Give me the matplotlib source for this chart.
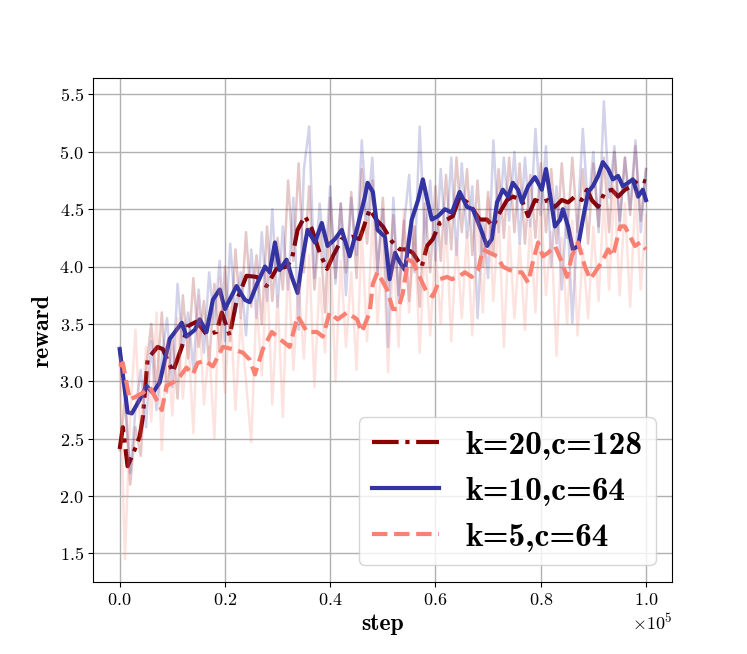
import numpy as np
import matplotlib
matplotlib.use("Agg")
import matplotlib.pyplot as plt
from matplotlib.ticker import ScalarFormatter

plt.rcParams['font.family'] = 'cmr10'
plt.rcParams['mathtext.fontset'] = 'cm'
plt.rcParams['axes.formatter.use_mathtext'] = True
plt.rcParams['axes.unicode_minus'] = False

labels = ['k=20,c=128', 'k=10,c=64', 'k=5,c=64']

# raw rewards, logged every 1000 steps
raw_steps = np.arange(0, 101) * 1000

raw_k20 = [2.40, 2.85, 2.10, 2.60, 2.35, 3.10, 3.50, 2.95, 3.60, 2.90,
           3.40, 2.85, 3.75, 3.20, 3.90, 3.30, 3.70, 3.15, 3.85, 3.25,
           4.00, 3.35, 4.15, 3.55, 4.30, 3.65, 4.10, 3.50, 4.35, 3.70,
           4.25, 3.80, 4.75, 4.05, 4.90, 3.95, 4.70, 3.80, 4.35, 3.60,
           4.60, 3.90, 4.55, 3.95, 4.65, 3.90, 4.85, 4.20, 4.75, 3.95,
           4.60, 3.80, 4.45, 3.75, 4.40, 3.70, 4.35, 3.65, 4.55, 3.95,
           4.70, 4.05, 4.80, 4.15, 4.95, 4.30, 4.85, 4.10, 4.75, 4.00,
           4.65, 4.10, 4.85, 4.25, 4.95, 4.30, 4.90, 4.20, 4.80, 4.25,
           4.90, 4.30, 4.85, 4.20, 4.90, 4.25, 4.95, 4.30, 4.85, 4.20,
           4.90, 4.35, 4.95, 4.30, 5.00, 4.40, 4.95, 4.45, 5.05, 4.40,
           4.85]

raw_k10 = [3.30, 2.90, 2.20, 2.75, 3.10, 2.60, 3.35, 2.75, 3.20, 3.55,
           2.95, 3.85, 3.30, 3.60, 3.10, 3.80, 3.25, 3.95, 3.50, 4.05,
           3.35, 4.20, 3.60, 3.95, 3.40, 4.15, 3.55, 4.30, 3.70, 4.50,
           3.65, 4.35, 3.80, 4.60, 3.45, 4.85, 5.22, 3.90, 4.55, 4.00,
           4.70, 3.85, 4.55, 3.75, 4.60, 4.10, 5.10, 4.40, 4.95, 3.95,
           4.50, 3.30, 4.60, 3.70, 4.35, 4.80, 3.95, 5.22, 4.20, 4.75,
           4.05, 4.85, 4.20, 4.95, 4.10, 4.90, 4.25, 4.70, 3.55, 4.40,
           3.90, 5.10, 4.30, 4.95, 4.40, 5.00, 4.20, 4.95, 4.35, 5.20,
           4.45, 5.05, 4.00, 4.70, 3.80, 4.55, 3.51, 4.40, 5.20, 4.50,
           5.00, 4.30, 5.44, 4.60, 5.05, 4.35, 4.95, 4.50, 5.10, 4.30,
           4.85]

raw_k5 = [3.20, 1.45, 2.70, 3.45, 2.50, 3.30, 2.65, 3.60, 2.40, 3.35,
          2.70, 3.55, 2.85, 3.40, 2.55, 3.75, 2.80, 3.30, 2.50, 3.90,
          2.90, 3.65, 2.75, 3.55, 3.00, 2.47, 3.70, 3.05, 3.95, 2.80,
          3.75, 2.69, 4.05, 3.10, 3.85, 3.20, 4.10, 2.95, 3.90, 3.25,
          4.20, 3.00, 4.05, 3.30, 3.95, 3.10, 4.30, 3.35, 4.40, 3.50,
          4.25, 3.08, 4.15, 3.30, 4.50, 3.60, 4.35, 3.25, 4.20, 3.40,
          4.15, 3.50, 4.40, 3.35, 4.25, 3.55, 4.30, 3.40, 4.50, 3.60,
          4.60, 3.70, 4.45, 3.30, 4.35, 3.55, 4.20, 3.45, 4.40, 3.60,
          4.55, 3.75, 4.30, 3.22, 4.25, 3.50, 4.40, 3.40, 4.15, 3.55,
          4.35, 3.70, 4.60, 3.80, 4.70, 3.75, 4.55, 3.65, 4.65, 3.80,
          4.45]

# smoothed curves (step in units of 1e5)
sm_x_k20 = [0.000, 0.006, 0.015, 0.029, 0.038, 0.044, 0.053, 0.063, 0.072, 0.082,
            0.101, 0.118, 0.129, 0.146, 0.165, 0.184, 0.194, 0.209, 0.222, 0.241,
            0.260, 0.279, 0.298, 0.317, 0.327, 0.338, 0.352, 0.365, 0.380, 0.394,
            0.405, 0.422, 0.441, 0.456, 0.475, 0.489, 0.500, 0.517, 0.532, 0.546,
            0.557, 0.574, 0.584, 0.595, 0.608, 0.622, 0.633, 0.646, 0.660, 0.671,
            0.684, 0.698, 0.709, 0.722, 0.736, 0.747, 0.764, 0.776, 0.789, 0.802,
            0.814, 0.827, 0.840, 0.852, 0.865, 0.878, 0.888, 0.897, 0.909, 0.922,
            0.935, 0.947, 0.960, 0.973, 0.985, 1.000]
sm_y_k20 = [2.41, 2.60, 2.26, 2.41, 2.52, 2.69, 3.19, 3.25, 3.30, 3.28,
            3.08, 3.30, 3.48, 3.52, 3.41, 3.43, 3.60, 3.40, 3.70, 3.92,
            3.91, 3.83, 3.98, 4.00, 4.06, 4.32, 4.44, 4.33, 4.12, 3.98,
            4.09, 4.24, 4.26, 4.24, 4.50, 4.40, 4.35, 4.22, 4.15, 4.15,
            4.12, 4.00, 4.18, 4.24, 4.38, 4.41, 4.44, 4.61, 4.56, 4.50,
            4.41, 4.41, 4.35, 4.47, 4.58, 4.61, 4.58, 4.44, 4.58, 4.56,
            4.58, 4.52, 4.58, 4.56, 4.61, 4.58, 4.67, 4.58, 4.52, 4.65,
            4.67, 4.61, 4.67, 4.70, 4.76, 4.74]

sm_x_k10 = [0.000, 0.015, 0.023, 0.038, 0.051, 0.063, 0.076, 0.095, 0.105, 0.118,
            0.127, 0.143, 0.152, 0.165, 0.177, 0.190, 0.200, 0.222, 0.238, 0.247,
            0.262, 0.276, 0.285, 0.295, 0.304, 0.317, 0.327, 0.338, 0.348, 0.357,
            0.371, 0.384, 0.395, 0.409, 0.422, 0.437, 0.452, 0.466, 0.471, 0.481,
            0.490, 0.504, 0.513, 0.523, 0.532, 0.542, 0.555, 0.567, 0.576, 0.584,
            0.593, 0.605, 0.618, 0.631, 0.646, 0.660, 0.671, 0.684, 0.698, 0.707,
            0.717, 0.728, 0.738, 0.747, 0.757, 0.764, 0.776, 0.789, 0.802, 0.810,
            0.817, 0.827, 0.837, 0.842, 0.852, 0.861, 0.871, 0.880, 0.890, 0.899,
            0.909, 0.918, 0.928, 0.937, 0.947, 0.956, 0.966, 0.975, 0.985, 0.994,
            1.000]
sm_y_k10 = [3.28, 2.73, 2.72, 2.84, 2.96, 2.90, 2.99, 3.37, 3.43, 3.51,
            3.39, 3.45, 3.54, 3.43, 3.71, 3.80, 3.63, 3.83, 3.71, 3.69,
            3.86, 4.00, 3.95, 4.21, 3.97, 4.06, 3.91, 3.77, 4.09, 4.32,
            4.21, 4.38, 4.18, 4.24, 4.32, 4.09, 4.35, 4.61, 4.73, 4.65,
            4.32, 4.26, 3.89, 4.12, 4.04, 3.97, 4.41, 4.58, 4.76, 4.59,
            4.41, 4.44, 4.50, 4.47, 4.65, 4.52, 4.50, 4.35, 4.18, 4.24,
            4.56, 4.67, 4.61, 4.73, 4.67, 4.56, 4.70, 4.78, 4.67, 4.85,
            4.65, 4.35, 4.41, 4.50, 4.35, 4.15, 4.18, 4.41, 4.65, 4.70,
            4.79, 4.91, 4.85, 4.76, 4.79, 4.70, 4.73, 4.76, 4.61, 4.67,
            4.58]

sm_x_k5 = [0.000, 0.006, 0.019, 0.032, 0.044, 0.057, 0.070, 0.080, 0.089, 0.101,
           0.114, 0.127, 0.139, 0.148, 0.162, 0.177, 0.196, 0.215, 0.234, 0.247,
           0.257, 0.272, 0.289, 0.304, 0.323, 0.338, 0.356, 0.375, 0.386, 0.399,
           0.414, 0.432, 0.451, 0.460, 0.475, 0.481, 0.490, 0.508, 0.519, 0.529,
           0.538, 0.548, 0.557, 0.570, 0.584, 0.595, 0.608, 0.622, 0.631, 0.643,
           0.656, 0.669, 0.681, 0.690, 0.703, 0.717, 0.728, 0.741, 0.755, 0.764,
           0.776, 0.785, 0.795, 0.804, 0.814, 0.827, 0.840, 0.850, 0.859, 0.871,
           0.884, 0.894, 0.903, 0.916, 0.928, 0.937, 0.951, 0.960, 0.970, 0.979,
           0.989, 1.000]
sm_y_k5 = [3.13, 3.16, 2.84, 2.87, 2.90, 2.95, 2.84, 2.75, 2.96, 2.99,
           3.04, 3.12, 3.06, 3.16, 3.18, 3.13, 3.30, 3.28, 3.25, 3.19,
           3.06, 3.28, 3.43, 3.37, 3.30, 3.57, 3.43, 3.43, 3.39, 3.60,
           3.54, 3.60, 3.54, 3.43, 3.60, 3.85, 3.95, 3.80, 3.63, 3.63,
           3.77, 4.06, 4.04, 3.91, 3.77, 3.74, 3.89, 3.91, 3.89, 3.91,
           3.95, 3.91, 3.97, 4.15, 4.12, 4.09, 4.00, 3.97, 3.95, 3.95,
           3.86, 4.04, 4.21, 4.09, 4.12, 4.18, 4.04, 3.91, 4.09, 4.21,
           4.00, 3.89, 3.95, 4.04, 4.15, 4.09, 4.35, 4.35, 4.26, 4.18,
           4.21, 4.15]

colors = ['darkred', (0.2, 0.2, 0.635), 'salmon']
styles = ['-.', '-', '--']
raws = [raw_k20, raw_k10, raw_k5]
sm_xs = [sm_x_k20, sm_x_k10, sm_x_k5]
sm_ys = [sm_y_k20, sm_y_k10, sm_y_k5]

fig, ax = plt.subplots(figsize=(7.47, 6.54), dpi=100)

for lab, col, ls, raw, sx, sy in zip(labels, colors, styles, raws, sm_xs, sm_ys):
    ax.plot(raw_steps, raw, color=col, alpha=0.22, lw=1.8)
    ax.plot(np.array(sx) * 1e5, sy, color=col, ls=ls, lw=3, label=lab)

ax.grid(True, color='#b0b0b0', lw=1)
ax.set_yticks([1.5, 2.0, 2.5, 3.0, 3.5, 4.0, 4.5, 5.0, 5.5])
fmt = ScalarFormatter(useMathText=True)
fmt.set_powerlimits((0, 0))
ax.xaxis.set_major_formatter(fmt)
ax.tick_params(labelsize=13)
ax.xaxis.get_offset_text().set_fontsize(13)
ax.set_xlabel('step', fontfamily='cmb10', fontsize=17)
ax.set_ylabel('reward', fontfamily='cmb10', fontsize=17)
ax.legend(loc='lower right', prop={'family': 'cmb10', 'size': 24})

fig.savefig('out.png', dpi=100)
